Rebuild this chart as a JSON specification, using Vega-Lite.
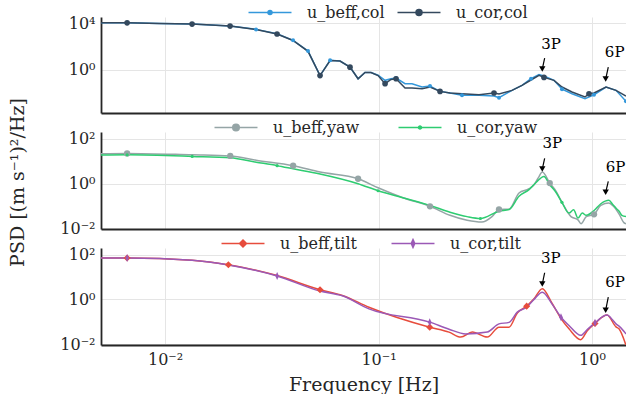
{
"$schema": "https://vega.github.io/schema/vega-lite/v6.json",
"padding": {"left": 8, "top": 4, "right": 0, "bottom": 0},
"background": "white",
"datasets": {
"col": [
{"f":0.00501,"p":11000,"s":"u_beff,col"},{"f":0.00664,"p":10700,"s":"u_beff,col"},{"f":0.0094,"p":9500,"s":"u_beff,col"},{"f":0.01338,"p":8300,"s":"u_beff,col"},{"f":0.02016,"p":5600,"s":"u_beff,col"},{"f":0.02668,"p":2900,"s":"u_beff,col"},{"f":0.03346,"p":1200,"s":"u_beff,col"},{"f":0.03976,"p":330,"s":"u_beff,col"},{"f":0.04675,"p":39,"s":"u_beff,col"},{"f":0.0532,"p":0.3,"s":"u_beff,col"},{"f":0.0593,"p":6.2,"s":"u_beff,col"},{"f":0.066,"p":5.4,"s":"u_beff,col"},{"f":0.0735,"p":1.6,"s":"u_beff,col"},{"f":0.0802,"p":0.16,"s":"u_beff,col"},{"f":0.0864,"p":0.55,"s":"u_beff,col"},{"f":0.0922,"p":0.55,"s":"u_beff,col"},{"f":0.0995,"p":0.32,"s":"u_beff,col"},{"f":0.1073,"p":0.117,"s":"u_beff,col"},{"f":0.1144,"p":0.16,"s":"u_beff,col"},{"f":0.1208,"p":0.185,"s":"u_beff,col"},{"f":0.1331,"p":0.06,"s":"u_beff,col"},{"f":0.1435,"p":0.06,"s":"u_beff,col"},{"f":0.1599,"p":0.031,"s":"u_beff,col"},{"f":0.1742,"p":0.038,"s":"u_beff,col"},{"f":0.1941,"p":0.013,"s":"u_beff,col"},{"f":0.2162,"p":0.0094,"s":"u_beff,col"},{"f":0.246,"p":0.006,"s":"u_beff,col"},{"f":0.2956,"p":0.006,"s":"u_beff,col"},{"f":0.3475,"p":0.0052,"s":"u_beff,col"},{"f":0.3667,"p":0.0037,"s":"u_beff,col"},{"f":0.4219,"p":0.016,"s":"u_beff,col"},{"f":0.47,"p":0.043,"s":"u_beff,col"},{"f":0.5179,"p":0.16,"s":"u_beff,col"},{"f":0.5646,"p":0.36,"s":"u_beff,col"},{"f":0.5957,"p":0.28,"s":"u_beff,col"},{"f":0.6637,"p":0.117,"s":"u_beff,col"},{"f":0.7235,"p":0.02,"s":"u_beff,col"},{"f":0.8059,"p":0.0082,"s":"u_beff,col"},{"f":0.9273,"p":0.003,"s":"u_beff,col"},{"f":1.0218,"p":0.0067,"s":"u_beff,col"},{"f":1.1631,"p":0.031,"s":"u_beff,col"},{"f":1.2953,"p":0.016,"s":"u_beff,col"},{"f":1.4428,"p":0.0018,"s":"u_beff,col"},
{"f":0.00501,"p":11000,"s":"u_cor,col"},{"f":0.00664,"p":10700,"s":"u_cor,col"},{"f":0.0094,"p":9500,"s":"u_cor,col"},{"f":0.01338,"p":8300,"s":"u_cor,col"},{"f":0.02016,"p":5600,"s":"u_cor,col"},{"f":0.02668,"p":2800,"s":"u_cor,col"},{"f":0.03346,"p":1150,"s":"u_cor,col"},{"f":0.03976,"p":320,"s":"u_cor,col"},{"f":0.04675,"p":37,"s":"u_cor,col"},{"f":0.0532,"p":0.3,"s":"u_cor,col"},{"f":0.0593,"p":6.0,"s":"u_cor,col"},{"f":0.066,"p":5.4,"s":"u_cor,col"},{"f":0.0735,"p":1.6,"s":"u_cor,col"},{"f":0.0802,"p":0.16,"s":"u_cor,col"},{"f":0.0864,"p":0.55,"s":"u_cor,col"},{"f":0.0922,"p":0.55,"s":"u_cor,col"},{"f":0.0995,"p":0.3,"s":"u_cor,col"},{"f":0.1073,"p":0.06,"s":"u_cor,col"},{"f":0.1144,"p":0.14,"s":"u_cor,col"},{"f":0.1208,"p":0.16,"s":"u_cor,col"},{"f":0.1331,"p":0.025,"s":"u_cor,col"},{"f":0.1435,"p":0.025,"s":"u_cor,col"},{"f":0.1599,"p":0.022,"s":"u_cor,col"},{"f":0.1742,"p":0.031,"s":"u_cor,col"},{"f":0.1941,"p":0.013,"s":"u_cor,col"},{"f":0.2162,"p":0.0094,"s":"u_cor,col"},{"f":0.246,"p":0.0082,"s":"u_cor,col"},{"f":0.2956,"p":0.0067,"s":"u_cor,col"},{"f":0.3475,"p":0.0094,"s":"u_cor,col"},{"f":0.3667,"p":0.0077,"s":"u_cor,col"},{"f":0.4219,"p":0.016,"s":"u_cor,col"},{"f":0.47,"p":0.043,"s":"u_cor,col"},{"f":0.5179,"p":0.125,"s":"u_cor,col"},{"f":0.5646,"p":0.32,"s":"u_cor,col"},{"f":0.5957,"p":0.21,"s":"u_cor,col"},{"f":0.6637,"p":0.117,"s":"u_cor,col"},{"f":0.7235,"p":0.031,"s":"u_cor,col"},{"f":0.8059,"p":0.0115,"s":"u_cor,col"},{"f":0.9273,"p":0.0043,"s":"u_cor,col"},{"f":0.9681,"p":0.0082,"s":"u_cor,col"},{"f":1.0218,"p":0.0094,"s":"u_cor,col"},{"f":1.1631,"p":0.031,"s":"u_cor,col"},{"f":1.2953,"p":0.016,"s":"u_cor,col"},{"f":1.4428,"p":0.0052,"s":"u_cor,col"}
],
"colm": [
{"f":0.00664,"p":10700,"s":"u_beff,col"},{"f":0.01338,"p":8300,"s":"u_beff,col"},{"f":0.02016,"p":5600,"s":"u_beff,col"},{"f":0.02668,"p":2900,"s":"u_beff,col"},{"f":0.03976,"p":330,"s":"u_beff,col"},{"f":0.04675,"p":39,"s":"u_beff,col"},{"f":0.0593,"p":6.2,"s":"u_beff,col"},{"f":0.1208,"p":0.185,"s":"u_beff,col"},{"f":0.1742,"p":0.038,"s":"u_beff,col"},{"f":0.246,"p":0.006,"s":"u_beff,col"},{"f":0.3667,"p":0.0037,"s":"u_beff,col"},{"f":0.5179,"p":0.16,"s":"u_beff,col"},{"f":0.7235,"p":0.02,"s":"u_beff,col"},{"f":1.0218,"p":0.0067,"s":"u_beff,col"},{"f":1.4428,"p":0.0018,"s":"u_beff,col"},
{"f":0.00664,"p":10700,"s":"u_cor,col"},{"f":0.01338,"p":8300,"s":"u_cor,col"},{"f":0.02016,"p":5600,"s":"u_cor,col"},{"f":0.03346,"p":1150,"s":"u_cor,col"},{"f":0.0532,"p":0.3,"s":"u_cor,col"},{"f":0.0735,"p":1.6,"s":"u_cor,col"},{"f":0.1073,"p":0.06,"s":"u_cor,col"},{"f":0.1208,"p":0.16,"s":"u_cor,col"},{"f":0.1941,"p":0.013,"s":"u_cor,col"},{"f":0.3475,"p":0.0094,"s":"u_cor,col"},{"f":0.5957,"p":0.21,"s":"u_cor,col"},{"f":0.9681,"p":0.0082,"s":"u_cor,col"}
],
"yaw": [
{"f":0.00501,"p":21,"s":"u_beff,yaw"},{"f":0.00664,"p":22,"s":"u_beff,yaw"},{"f":0.0134,"p":19,"s":"u_beff,yaw"},{"f":0.0202,"p":17,"s":"u_beff,yaw"},{"f":0.0267,"p":11,"s":"u_beff,yaw"},{"f":0.0398,"p":6.3,"s":"u_beff,yaw"},{"f":0.0532,"p":3.3,"s":"u_beff,yaw"},{"f":0.0802,"p":1.66,"s":"u_beff,yaw"},{"f":0.0995,"p":0.66,"s":"u_beff,yaw"},{"f":0.13,"p":0.24,"s":"u_beff,yaw"},{"f":0.1742,"p":0.1,"s":"u_beff,yaw"},{"f":0.2162,"p":0.04,"s":"u_beff,yaw"},{"f":0.26,"p":0.024,"s":"u_beff,yaw"},{"f":0.305,"p":0.02,"s":"u_beff,yaw"},{"f":0.34,"p":0.035,"s":"u_beff,yaw"},{"f":0.3667,"p":0.072,"s":"u_beff,yaw"},{"f":0.409,"p":0.075,"s":"u_beff,yaw"},{"f":0.455,"p":0.39,"s":"u_beff,yaw"},{"f":0.507,"p":0.6,"s":"u_beff,yaw"},{"f":0.535,"p":0.9,"s":"u_beff,yaw"},{"f":0.56,"p":1.8,"s":"u_beff,yaw"},{"f":0.585,"p":3.3,"s":"u_beff,yaw"},{"f":0.634,"p":1.07,"s":"u_beff,yaw"},{"f":0.68,"p":0.45,"s":"u_beff,yaw"},{"f":0.723,"p":0.15,"s":"u_beff,yaw"},{"f":0.797,"p":0.035,"s":"u_beff,yaw"},{"f":0.86,"p":0.025,"s":"u_beff,yaw"},{"f":0.888,"p":0.017,"s":"u_beff,yaw"},{"f":0.94,"p":0.035,"s":"u_beff,yaw"},{"f":1.022,"p":0.044,"s":"u_beff,yaw"},{"f":1.1,"p":0.11,"s":"u_beff,yaw"},{"f":1.2,"p":0.14,"s":"u_beff,yaw"},{"f":1.26,"p":0.1,"s":"u_beff,yaw"},{"f":1.34,"p":0.045,"s":"u_beff,yaw"},{"f":1.41,"p":0.019,"s":"u_beff,yaw"},{"f":1.443,"p":0.017,"s":"u_beff,yaw"},
{"f":0.00501,"p":18.5,"s":"u_cor,yaw"},{"f":0.00664,"p":19,"s":"u_cor,yaw"},{"f":0.0134,"p":16.2,"s":"u_cor,yaw"},{"f":0.0202,"p":14,"s":"u_cor,yaw"},{"f":0.0267,"p":9,"s":"u_cor,yaw"},{"f":0.0335,"p":6.3,"s":"u_cor,yaw"},{"f":0.0398,"p":4.6,"s":"u_cor,yaw"},{"f":0.0532,"p":2.7,"s":"u_cor,yaw"},{"f":0.0802,"p":1.0,"s":"u_cor,yaw"},{"f":0.0995,"p":0.49,"s":"u_cor,yaw"},{"f":0.13,"p":0.24,"s":"u_cor,yaw"},{"f":0.1742,"p":0.11,"s":"u_cor,yaw"},{"f":0.2162,"p":0.055,"s":"u_cor,yaw"},{"f":0.26,"p":0.035,"s":"u_cor,yaw"},{"f":0.3,"p":0.029,"s":"u_cor,yaw"},{"f":0.3667,"p":0.061,"s":"u_cor,yaw"},{"f":0.409,"p":0.072,"s":"u_cor,yaw"},{"f":0.455,"p":0.28,"s":"u_cor,yaw"},{"f":0.507,"p":0.55,"s":"u_cor,yaw"},{"f":0.55,"p":1.2,"s":"u_cor,yaw"},{"f":0.595,"p":2.1,"s":"u_cor,yaw"},{"f":0.634,"p":0.9,"s":"u_cor,yaw"},{"f":0.68,"p":0.4,"s":"u_cor,yaw"},{"f":0.723,"p":0.15,"s":"u_cor,yaw"},{"f":0.78,"p":0.05,"s":"u_cor,yaw"},{"f":0.82,"p":0.07,"s":"u_cor,yaw"},{"f":0.86,"p":0.03,"s":"u_cor,yaw"},{"f":0.9,"p":0.05,"s":"u_cor,yaw"},{"f":0.94,"p":0.04,"s":"u_cor,yaw"},{"f":1.022,"p":0.065,"s":"u_cor,yaw"},{"f":1.1,"p":0.13,"s":"u_cor,yaw"},{"f":1.2,"p":0.185,"s":"u_cor,yaw"},{"f":1.25,"p":0.12,"s":"u_cor,yaw"},{"f":1.3,"p":0.08,"s":"u_cor,yaw"},{"f":1.34,"p":0.06,"s":"u_cor,yaw"},{"f":1.38,"p":0.04,"s":"u_cor,yaw"},{"f":1.443,"p":0.035,"s":"u_cor,yaw"}
],
"yawm": [
{"f":0.00664,"p":22,"s":"u_beff,yaw"},{"f":0.0202,"p":17,"s":"u_beff,yaw"},{"f":0.0398,"p":6.3,"s":"u_beff,yaw"},{"f":0.0802,"p":1.66,"s":"u_beff,yaw"},{"f":0.1742,"p":0.1,"s":"u_beff,yaw"},{"f":0.3667,"p":0.072,"s":"u_beff,yaw"},{"f":0.634,"p":1.07,"s":"u_beff,yaw"},{"f":1.022,"p":0.044,"s":"u_beff,yaw"},
{"f":0.00664,"p":19,"s":"u_cor,yaw"},{"f":0.0134,"p":16.2,"s":"u_cor,yaw"},{"f":0.0335,"p":6.3,"s":"u_cor,yaw"},{"f":0.0995,"p":0.49,"s":"u_cor,yaw"},{"f":0.3,"p":0.029,"s":"u_cor,yaw"},{"f":0.723,"p":0.15,"s":"u_cor,yaw"}
],
"tilt": [
{"f":0.00501,"p":70,"s":"u_beff,tilt"},{"f":0.00664,"p":70,"s":"u_beff,tilt"},{"f":0.0134,"p":55,"s":"u_beff,tilt"},{"f":0.0198,"p":35,"s":"u_beff,tilt"},{"f":0.0335,"p":11.5,"s":"u_beff,tilt"},{"f":0.0532,"p":2.7,"s":"u_beff,tilt"},{"f":0.0677,"p":1.5,"s":"u_beff,tilt"},{"f":0.0902,"p":0.45,"s":"u_beff,tilt"},{"f":0.1737,"p":0.058,"s":"u_beff,tilt"},{"f":0.2139,"p":0.035,"s":"u_beff,tilt"},{"f":0.2427,"p":0.021,"s":"u_beff,tilt"},{"f":0.275,"p":0.035,"s":"u_beff,tilt"},{"f":0.3233,"p":0.021,"s":"u_beff,tilt"},{"f":0.3667,"p":0.058,"s":"u_beff,tilt"},{"f":0.4087,"p":0.058,"s":"u_beff,tilt"},{"f":0.4468,"p":0.25,"s":"u_beff,tilt"},{"f":0.4943,"p":0.5,"s":"u_beff,tilt"},{"f":0.535,"p":1.06,"s":"u_beff,tilt"},{"f":0.585,"p":3.0,"s":"u_beff,tilt"},{"f":0.6517,"p":0.64,"s":"u_beff,tilt"},{"f":0.7157,"p":0.14,"s":"u_beff,tilt"},{"f":0.7802,"p":0.049,"s":"u_beff,tilt"},{"f":0.8854,"p":0.016,"s":"u_beff,tilt"},{"f":0.95,"p":0.04,"s":"u_beff,tilt"},{"f":1.033,"p":0.085,"s":"u_beff,tilt"},{"f":1.176,"p":0.2,"s":"u_beff,tilt"},{"f":1.295,"p":0.06,"s":"u_beff,tilt"},{"f":1.338,"p":0.049,"s":"u_beff,tilt"},{"f":1.443,"p":0.009,"s":"u_beff,tilt"},
{"f":0.00501,"p":70,"s":"u_cor,tilt"},{"f":0.00664,"p":70,"s":"u_cor,tilt"},{"f":0.0134,"p":55,"s":"u_cor,tilt"},{"f":0.0198,"p":34,"s":"u_cor,tilt"},{"f":0.0335,"p":11,"s":"u_cor,tilt"},{"f":0.0532,"p":2.35,"s":"u_cor,tilt"},{"f":0.0677,"p":1.45,"s":"u_cor,tilt"},{"f":0.0902,"p":0.38,"s":"u_cor,tilt"},{"f":0.1737,"p":0.097,"s":"u_cor,tilt"},{"f":0.2139,"p":0.047,"s":"u_cor,tilt"},{"f":0.256,"p":0.029,"s":"u_cor,tilt"},{"f":0.3233,"p":0.035,"s":"u_cor,tilt"},{"f":0.3667,"p":0.081,"s":"u_cor,tilt"},{"f":0.4087,"p":0.095,"s":"u_cor,tilt"},{"f":0.4468,"p":0.27,"s":"u_cor,tilt"},{"f":0.4943,"p":0.45,"s":"u_cor,tilt"},{"f":0.535,"p":1.0,"s":"u_cor,tilt"},{"f":0.585,"p":2.1,"s":"u_cor,tilt"},{"f":0.6517,"p":0.6,"s":"u_cor,tilt"},{"f":0.7157,"p":0.16,"s":"u_cor,tilt"},{"f":0.7802,"p":0.069,"s":"u_cor,tilt"},{"f":0.8854,"p":0.025,"s":"u_cor,tilt"},{"f":0.95,"p":0.045,"s":"u_cor,tilt"},{"f":1.033,"p":0.09,"s":"u_cor,tilt"},{"f":1.176,"p":0.2,"s":"u_cor,tilt"},{"f":1.25,"p":0.12,"s":"u_cor,tilt"},{"f":1.295,"p":0.081,"s":"u_cor,tilt"},{"f":1.35,"p":0.06,"s":"u_cor,tilt"},{"f":1.443,"p":0.029,"s":"u_cor,tilt"}
],
"tiltm": [
{"f":0.00664,"p":70,"s":"u_beff,tilt"},{"f":0.0198,"p":35,"s":"u_beff,tilt"},{"f":0.0532,"p":2.7,"s":"u_beff,tilt"},{"f":0.1737,"p":0.058,"s":"u_beff,tilt"},{"f":0.4943,"p":0.5,"s":"u_beff,tilt"},{"f":1.033,"p":0.085,"s":"u_beff,tilt"},
{"f":0.00664,"p":70,"s":"u_cor,tilt"},{"f":0.0335,"p":11,"s":"u_cor,tilt"},{"f":0.1737,"p":0.097,"s":"u_cor,tilt"},{"f":0.7157,"p":0.16,"s":"u_cor,tilt"},{"f":1.033,"p":0.09,"s":"u_cor,tilt"}
],
"ann": [
{"panel":"col","lab":"3P","ft":0.643,"pt":167,"fa":0.6,"pa":9.8,"fb":0.585,"pb":1.1},
{"panel":"col","lab":"6P","ft":1.277,"pt":32,"fa":1.192,"pa":1.64,"fb":1.159,"pb":0.152},
{"panel":"yaw","lab":"3P","ft":0.652,"pt":66,"fa":0.6,"pa":13.3,"fb":0.585,"pb":4.45},
{"panel":"yaw","lab":"6P","ft":1.29,"pt":5.7,"fa":1.192,"pa":1.26,"fb":1.159,"pb":0.415},
{"panel":"tilt","lab":"3P","ft":0.641,"pt":70,"fa":0.6,"pa":15.4,"fb":0.585,"pb":4.8},
{"panel":"tilt","lab":"6P","ft":1.281,"pt":5.9,"fa":1.192,"pa":1.27,"fb":1.159,"pb":0.33}
]
},
"spacing": 19,
"bounds": "flush",
"resolve": {"scale": {"color": "independent", "y": "independent", "x": "independent"}, "legend": {"color": "independent"}},
"vconcat": [
{
"width": 525, "height": 96,
"layer": [
{"data": {"name": "col"}, "mark": {"type": "line", "strokeWidth": 1.5, "clip": true},
 "encoding": {
  "x": {"field": "f", "type": "quantitative", "scale": {"type": "log", "domain": [0.00501, 1.443], "nice": false}, "axis": {"values": [0.01, 0.1, 1], "labels": false, "title": null, "grid": true}},
  "y": {"field": "p", "type": "quantitative", "scale": {"type": "log", "domain": [0.000178, 33900], "nice": false}, "axis": {"values": [1, 10000], "title": null, "grid": true, "labelExpr": "datum.value > 5000 ? '10⁴' : datum.value > 50 ? '10²' : datum.value > 0.5 ? '10⁰' : datum.value > 0.05 ? '10⁻¹' : '10⁻²'"}},
  "color": {"field": "s", "type": "nominal", "scale": {"domain": ["u_beff,col", "u_cor,col"], "range": ["#3498db", "#34495e"]},
   "legend": {"title": null, "orient": "none", "legendX": 161, "legendY": -12.5, "direction": "horizontal", "columnPadding": 9, "labelOffset": 29, "symbolSize": 196, "padding": 0,
    "encode": {"symbols": {"update": {
     "shape": {"signal": "datum.value == 'u_beff,col' ? 'M-3.07,0L3.07,0M0.29,0A0.29,0.29 0 1,1 -0.29,0A0.29,0.29 0 1,1 0.29,0Z' : 'M-3.07,0L3.07,0M0.43,0A0.43,0.43 0 1,1 -0.43,0A0.43,0.43 0 1,1 0.43,0Z'"},
     "fill": {"signal": "datum.value == 'u_beff,col' ? '#3498db' : '#34495e'"},
     "stroke": {"signal": "datum.value == 'u_beff,col' ? '#3498db' : '#34495e'"},
     "strokeWidth": {"value": 1.5}, "opacity": {"value": 1}, "fillOpacity": {"value": 1}}}}}}
 }},
{"data": {"name": "colm"}, "transform": [{"filter": "datum.s == 'u_beff,col'"}], "mark": {"type": "point", "filled": true, "opacity": 1, "size": 16, "color": "#3498db", "clip": true},
 "encoding": {"x": {"field": "f", "type": "quantitative", "scale": {"type": "log", "domain": [0.00501, 1.443], "nice": false}}, "y": {"field": "p", "type": "quantitative", "scale": {"type": "log", "domain": [0.000178, 33900], "nice": false}}}},
{"data": {"name": "colm"}, "transform": [{"filter": "datum.s == 'u_cor,col'"}], "mark": {"type": "point", "filled": true, "opacity": 1, "size": 32, "color": "#34495e", "clip": true},
 "encoding": {"x": {"field": "f", "type": "quantitative", "scale": {"type": "log", "domain": [0.00501, 1.443], "nice": false}}, "y": {"field": "p", "type": "quantitative", "scale": {"type": "log", "domain": [0.000178, 33900], "nice": false}}}},
{"data": {"name": "ann"}, "transform": [{"filter": "datum.panel == 'col'"}], "mark": {"type": "rule", "color": "black", "strokeWidth": 1.2},
 "encoding": {"x": {"field": "fa", "type": "quantitative", "scale": {"type": "log", "domain": [0.00501, 1.443], "nice": false}}, "x2": {"field": "fb"}, "y": {"field": "pa", "type": "quantitative", "scale": {"type": "log", "domain": [0.000178, 33900], "nice": false}}, "y2": {"field": "pb"}}},
{"data": {"name": "ann"}, "transform": [{"filter": "datum.panel == 'col'"}], "mark": {"type": "point", "shape": "triangle-down", "filled": true, "color": "black", "opacity": 1, "size": 40},
 "encoding": {"x": {"field": "fb", "type": "quantitative", "scale": {"type": "log", "domain": [0.00501, 1.443], "nice": false}}, "y": {"field": "pb", "type": "quantitative", "scale": {"type": "log", "domain": [0.000178, 33900], "nice": false}}}},
{"data": {"name": "ann"}, "transform": [{"filter": "datum.panel == 'col'"}], "mark": {"type": "text", "font": "DejaVu Serif", "fontSize": 15, "color": "black", "align": "center", "baseline": "middle"},
 "encoding": {"x": {"field": "ft", "type": "quantitative", "scale": {"type": "log", "domain": [0.00501, 1.443], "nice": false}}, "y": {"field": "pt", "type": "quantitative", "scale": {"type": "log", "domain": [0.000178, 33900], "nice": false}}, "text": {"field": "lab"}}}
]
},
{
"width": 525, "height": 97,
"layer": [
{"data": {"name": "yaw"}, "mark": {"type": "line", "strokeWidth": 1.5, "clip": true, "interpolate": "monotone"},
 "encoding": {
  "x": {"field": "f", "type": "quantitative", "scale": {"type": "log", "domain": [0.00501, 1.443], "nice": false}, "axis": {"values": [0.01, 0.1, 1], "labels": false, "title": null, "grid": true}},
  "y": {"field": "p", "type": "quantitative", "scale": {"type": "log", "domain": [0.0099, 195], "nice": false}, "axis": {"values": [0.01, 1, 100], "title": "PSD [(m s⁻¹)²/Hz]", "titleX": -84, "titleY": 50, "titleAngle": 270, "titleAlign": "center", "titleBaseline": "middle", "grid": true, "labelExpr": "datum.value > 5000 ? '10⁴' : datum.value > 50 ? '10²' : datum.value > 0.5 ? '10⁰' : datum.value > 0.05 ? '10⁻¹' : '10⁻²'"}},
  "color": {"field": "s", "type": "nominal", "scale": {"domain": ["u_beff,yaw", "u_cor,yaw"], "range": ["#95a5a6", "#2ecc71"]},
   "legend": {"title": null, "orient": "none", "legendX": 127, "legendY": -12.5, "direction": "horizontal", "columnPadding": 35, "labelOffset": 29, "symbolSize": 196, "padding": 0,
    "encode": {"symbols": {"update": {
     "shape": {"signal": "datum.value == 'u_beff,yaw' ? 'M-3.07,0L3.07,0M0.47,0A0.47,0.47 0 1,1 -0.47,0A0.47,0.47 0 1,1 0.47,0Z' : 'M-3.07,0L3.07,0M0.22,0A0.22,0.22 0 1,1 -0.22,0A0.22,0.22 0 1,1 0.22,0Z'"},
     "fill": {"signal": "datum.value == 'u_beff,yaw' ? '#95a5a6' : '#2ecc71'"},
     "stroke": {"signal": "datum.value == 'u_beff,yaw' ? '#95a5a6' : '#2ecc71'"},
     "strokeWidth": {"value": 1.5}, "opacity": {"value": 1}, "fillOpacity": {"value": 1}}}}}}
 }},
{"data": {"name": "yawm"}, "transform": [{"filter": "datum.s == 'u_beff,yaw'"}], "mark": {"type": "point", "filled": true, "opacity": 1, "size": 40, "color": "#95a5a6", "clip": true},
 "encoding": {"x": {"field": "f", "type": "quantitative", "scale": {"type": "log", "domain": [0.00501, 1.443], "nice": false}}, "y": {"field": "p", "type": "quantitative", "scale": {"type": "log", "domain": [0.0099, 195], "nice": false}}}},
{"data": {"name": "yawm"}, "transform": [{"filter": "datum.s == 'u_cor,yaw'"}], "mark": {"type": "point", "filled": true, "opacity": 1, "size": 10, "color": "#2ecc71", "clip": true},
 "encoding": {"x": {"field": "f", "type": "quantitative", "scale": {"type": "log", "domain": [0.00501, 1.443], "nice": false}}, "y": {"field": "p", "type": "quantitative", "scale": {"type": "log", "domain": [0.0099, 195], "nice": false}}}},
{"data": {"name": "ann"}, "transform": [{"filter": "datum.panel == 'yaw'"}], "mark": {"type": "rule", "color": "black", "strokeWidth": 1.2},
 "encoding": {"x": {"field": "fa", "type": "quantitative", "scale": {"type": "log", "domain": [0.00501, 1.443], "nice": false}}, "x2": {"field": "fb"}, "y": {"field": "pa", "type": "quantitative", "scale": {"type": "log", "domain": [0.0099, 195], "nice": false}}, "y2": {"field": "pb"}}},
{"data": {"name": "ann"}, "transform": [{"filter": "datum.panel == 'yaw'"}], "mark": {"type": "point", "shape": "triangle-down", "filled": true, "color": "black", "opacity": 1, "size": 40},
 "encoding": {"x": {"field": "fb", "type": "quantitative", "scale": {"type": "log", "domain": [0.00501, 1.443], "nice": false}}, "y": {"field": "pb", "type": "quantitative", "scale": {"type": "log", "domain": [0.0099, 195], "nice": false}}}},
{"data": {"name": "ann"}, "transform": [{"filter": "datum.panel == 'yaw'"}], "mark": {"type": "text", "font": "DejaVu Serif", "fontSize": 15, "color": "black", "align": "center", "baseline": "middle"},
 "encoding": {"x": {"field": "ft", "type": "quantitative", "scale": {"type": "log", "domain": [0.00501, 1.443], "nice": false}}, "y": {"field": "pt", "type": "quantitative", "scale": {"type": "log", "domain": [0.0099, 195], "nice": false}}, "text": {"field": "lab"}}}
]
},
{
"width": 525, "height": 97,
"layer": [
{"data": {"name": "tilt"}, "mark": {"type": "line", "strokeWidth": 1.5, "clip": true, "interpolate": "monotone"},
 "encoding": {
  "x": {"field": "f", "type": "quantitative", "scale": {"type": "log", "domain": [0.00501, 1.443], "nice": false}, "axis": {"values": [0.01, 0.1, 1], "title": "Frequency [Hz]", "titlePadding": 8, "grid": true, "labelExpr": "datum.value > 5000 ? '10⁴' : datum.value > 50 ? '10²' : datum.value > 0.5 ? '10⁰' : datum.value > 0.05 ? '10⁻¹' : '10⁻²'"}},
  "y": {"field": "p", "type": "quantitative", "scale": {"type": "log", "domain": [0.0093, 195], "nice": false}, "axis": {"values": [0.01, 1, 100], "title": null, "grid": true, "labelExpr": "datum.value > 5000 ? '10⁴' : datum.value > 50 ? '10²' : datum.value > 0.5 ? '10⁰' : datum.value > 0.05 ? '10⁻¹' : '10⁻²'"}},
  "color": {"field": "s", "type": "nominal", "scale": {"domain": ["u_beff,tilt", "u_cor,tilt"], "range": ["#e74c3c", "#9b59b6"]},
   "legend": {"title": null, "orient": "none", "legendX": 134, "legendY": -12.5, "direction": "horizontal", "columnPadding": 31, "labelOffset": 29, "symbolSize": 196, "padding": 0,
    "encode": {"symbols": {"update": {
     "shape": {"signal": "datum.value == 'u_beff,tilt' ? 'M-3.07,0L3.07,0M0,-0.5L0.5,0L0,0.5L-0.5,0Z' : 'M-3.07,0L3.07,0M0,-0.57L0.25,0L0,0.57L-0.25,0Z'"},
     "fill": {"signal": "datum.value == 'u_beff,tilt' ? '#e74c3c' : '#9b59b6'"},
     "stroke": {"signal": "datum.value == 'u_beff,tilt' ? '#e74c3c' : '#9b59b6'"},
     "strokeWidth": {"value": 1.5}, "opacity": {"value": 1}, "fillOpacity": {"value": 1}}}}}}
 }},
{"data": {"name": "tiltm"}, "transform": [{"filter": "datum.s == 'u_beff,tilt'"}], "mark": {"type": "point", "filled": true, "opacity": 1, "size": 50, "shape": "diamond", "color": "#e74c3c", "clip": true},
 "encoding": {"x": {"field": "f", "type": "quantitative", "scale": {"type": "log", "domain": [0.00501, 1.443], "nice": false}}, "y": {"field": "p", "type": "quantitative", "scale": {"type": "log", "domain": [0.0093, 195], "nice": false}}}},
{"data": {"name": "tiltm"}, "transform": [{"filter": "datum.s == 'u_cor,tilt'"}], "mark": {"type": "point", "filled": true, "opacity": 1, "size": 64, "shape": "M0,-1L0.45,0L0,1L-0.45,0Z", "color": "#9b59b6", "clip": true},
 "encoding": {"x": {"field": "f", "type": "quantitative", "scale": {"type": "log", "domain": [0.00501, 1.443], "nice": false}}, "y": {"field": "p", "type": "quantitative", "scale": {"type": "log", "domain": [0.0093, 195], "nice": false}}}},
{"data": {"name": "ann"}, "transform": [{"filter": "datum.panel == 'tilt'"}], "mark": {"type": "rule", "color": "black", "strokeWidth": 1.2},
 "encoding": {"x": {"field": "fa", "type": "quantitative", "scale": {"type": "log", "domain": [0.00501, 1.443], "nice": false}}, "x2": {"field": "fb"}, "y": {"field": "pa", "type": "quantitative", "scale": {"type": "log", "domain": [0.0093, 195], "nice": false}}, "y2": {"field": "pb"}}},
{"data": {"name": "ann"}, "transform": [{"filter": "datum.panel == 'tilt'"}], "mark": {"type": "point", "shape": "triangle-down", "filled": true, "color": "black", "opacity": 1, "size": 40},
 "encoding": {"x": {"field": "fb", "type": "quantitative", "scale": {"type": "log", "domain": [0.00501, 1.443], "nice": false}}, "y": {"field": "pb", "type": "quantitative", "scale": {"type": "log", "domain": [0.0093, 195], "nice": false}}}},
{"data": {"name": "ann"}, "transform": [{"filter": "datum.panel == 'tilt'"}], "mark": {"type": "text", "font": "DejaVu Serif", "fontSize": 15, "color": "black", "align": "center", "baseline": "middle"},
 "encoding": {"x": {"field": "ft", "type": "quantitative", "scale": {"type": "log", "domain": [0.00501, 1.443], "nice": false}}, "y": {"field": "pt", "type": "quantitative", "scale": {"type": "log", "domain": [0.0093, 195], "nice": false}}, "text": {"field": "lab"}}}
]
}
],
"config": {
 "font": "DejaVu Serif",
 "view": {"stroke": null},
 "axis": {"labelFont": "DejaVu Serif", "labelFontSize": 16, "labelColor": "#262626", "titleFont": "DejaVu Serif", "titleFontSize": 19, "titleFontWeight": "normal", "titleColor": "#262626", "gridColor": "#e5e5e5", "gridWidth": 1, "domainColor": "#262626", "domainWidth": 1.8, "ticks": false, "labelPadding": 6},
 "legend": {"labelFont": "DejaVu Serif", "labelFontSize": 16, "labelColor": "#262626", "symbolStrokeWidth": 1.5}
}
}
